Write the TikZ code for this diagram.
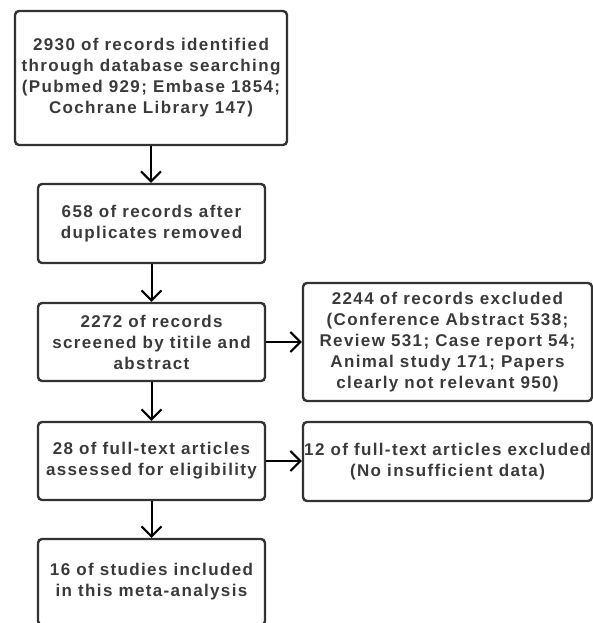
\documentclass[tikz,border=0pt]{standalone}
\usepackage{fontspec}
\setmainfont{Liberation Sans}[LetterSpace=8]
\usetikzlibrary{arrows.meta}
\definecolor{boxgray}{HTML}{333333}
\definecolor{txtgray}{HTML}{3A3A3A}
\begin{document}
\begin{tikzpicture}[x=1pt,y=-1pt,
  box/.style={draw=boxgray,line width=2.4pt,rounded corners=4pt,align=center,
    text=txtgray,font=\fontsize{17}{21}\selectfont\bfseries,inner sep=0pt},
  arr/.style={-{Straight Barb[length=10pt,width=20pt]},line width=2pt}]
\useasboundingbox (0,0) rectangle (593,623);
\clip (0,0) rectangle (593,623);
\node[box,minimum width=272pt,minimum height=134pt] (rec) at (151,78)
  {2930 of records identified\\through database searching\\(Pubmed 929; Embase 1854;\\Cochrane Library 147)};
\node[box,minimum width=227pt,minimum height=79pt] (dup) at (151.5,223.5)
  {658 of records after\\duplicates removed};
\node[box,minimum width=227pt,minimum height=78pt] (scr) at (151.5,342)
  {2272 of records\\screened by titile and\\abstract};
\node[box,minimum width=289pt,minimum height=118pt] (exc) at (447.5,342)
  {2244 of records excluded\\(Conference Abstract 538;\\Review 531; Case report 54;\\Animal study 171; Papers\\clearly not relevant 950)};
\node[box,minimum width=227pt,minimum height=78pt] (full) at (151.5,461)
  {28 of full-text articles\\assessed for eligibility};
\node[box,minimum width=289pt,minimum height=79pt] (ftx) at (447.5,461.5)
  {12 of full-text articles excluded\\(No insufficient data)};
\node[box,minimum width=227pt,minimum height=86pt] (inc) at (151.5,582)
  {16 of studies included\\in this meta-analysis};
\draw[arr] (rec.south) -- (rec.south |- dup.north);
\draw[arr] (dup.south) -- (scr.north);
\draw[arr] (scr.south) -- (full.north);
\draw[arr] (full.south) -- (inc.north);
\draw[arr] (scr.east) -- (scr.east -| exc.west);
\draw[arr] (full.east) -- (full.east -| ftx.west);
\end{tikzpicture}
\end{document}
